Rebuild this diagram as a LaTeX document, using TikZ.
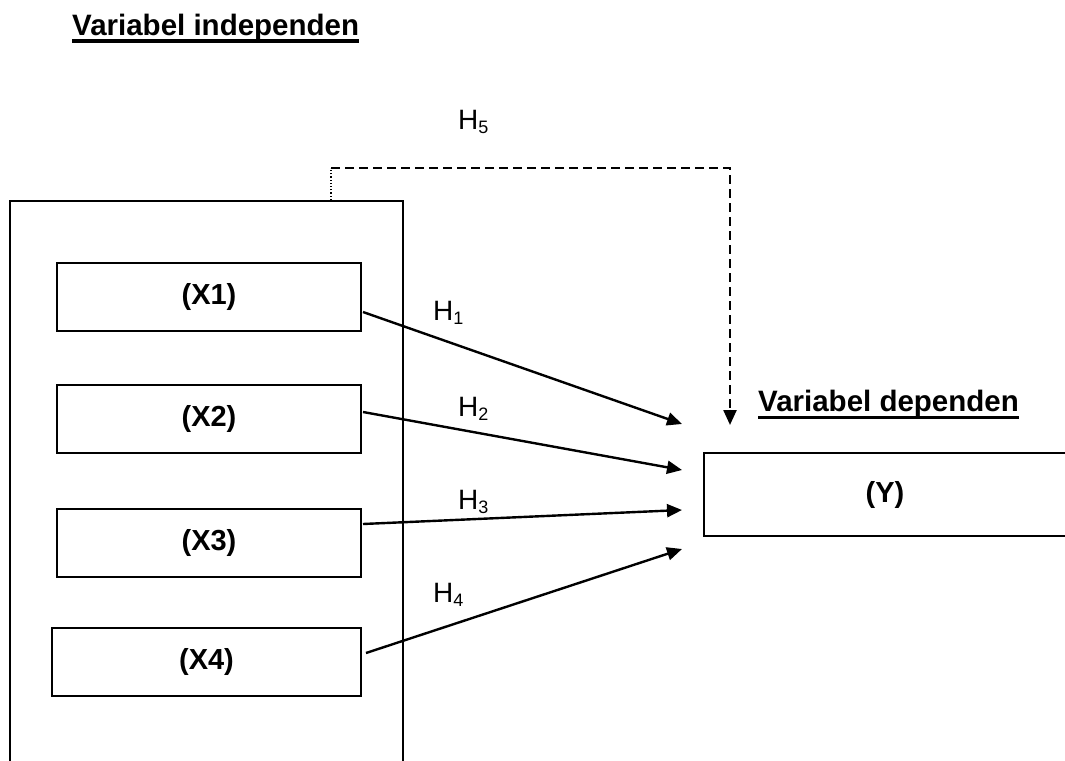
\documentclass[tikz,border=0pt]{standalone}
\usepackage{fontspec}
\setmainfont{Liberation Sans}
\usetikzlibrary{arrows.meta,calc}
\newcommand{\Hsub}[1]{H\raisebox{-4pt}{\fontsize{18}{18}\selectfont #1}}
\begin{document}
\begin{tikzpicture}[x=1pt,y=-1pt,
  box/.style={draw,line width=2pt,inner sep=0pt,font=\fontsize{29}{34}\selectfont\bfseries},
  hdr/.style={inner sep=0pt,anchor=base west,font=\fontsize{29.5}{34}\selectfont\bfseries},
  hlab/.style={inner sep=0pt,anchor=base west,font=\fontsize{28}{32}\selectfont},
  arr/.style={line width=2.4pt,-{Triangle[length=15pt,width=13pt]}},
  darr/.style={line width=2.4pt,dash pattern=on 9pt off 5pt},
]
\useasboundingbox (0,0) rectangle (1065,760);
\clip (0,0) rectangle (1065,760);
\fill[white] (0,0) rectangle (1065,760);

% headers
\node[hdr] (hin) at (72,36) {Variabel independen};
\draw[line width=3.5pt] ($(hin.base west)+(0,5)$) -- ($(hin.base east)+(0,5)$);
\node[hdr] (hdep) at (758,411) {Variabel dependen};
\draw[line width=3.5pt] ($(hdep.base west)+(0,6.5)$) -- ($(hdep.base east)+(0,6.5)$);

% outer box (extends beyond bottom)
\node[draw,line width=2pt,minimum width=393pt,minimum height=600pt,inner sep=0pt] (outer) at (206.5,501) {};

% X boxes
\node[box,minimum width=304pt,minimum height=68pt] (x1) at (209,297) {(X1)};
\node[box,minimum width=304pt,minimum height=68pt] (x2) at (209,419) {(X2)};
\node[box,minimum width=304pt,minimum height=68pt] (x3) at (209,543) {(X3)};
\node[box,minimum width=309pt,minimum height=68pt] (x4) at (206.5,662) {(X4)};

% Y box (extends beyond right edge)
\node[box,minimum width=362pt,minimum height=83pt] (y) at (885,494.5) {(Y)};

% arrow targets
\coordinate (t1) at (682,424);
\coordinate (t2) at (682,470);
\coordinate (t3) at (682,510);
\coordinate (t4) at (682,549);
\coordinate (t5) at (730,425);

\draw[arr] ($(x1.east)+(1,15)$) -- (t1);
\draw[arr] ($(x2.east)+(1,-7)$) -- (t2);
\draw[arr] ($(x3.east)+(1,-19)$) -- (t3);
\draw[arr] ($(x4.east)+(4,-9)$) -- (t4);

% H5 path
\coordinate (d0) at (331,168);
\coordinate (d1) at (730,168);
\draw[line width=1.2pt,dotted] (outer.north -| d0) -- (d0);
\draw[darr] (d0) -- (d1) -- ($(t5)+(0,-15)$);
\draw[line width=2.4pt,-{Triangle[length=15pt,width=13pt]}] ($(t5)+(0,-15.5)$) -- (t5);

% labels
\node[hlab] (h1) at (433,320) {\Hsub{1}};
\node[hlab] (h2) at (458,416) {\Hsub{2}};
\node[hlab] (h3) at (458,509) {\Hsub{3}};
\node[hlab] (h4) at (433,602) {\Hsub{4}};
\node[hlab] (h5) at (458,129) {\Hsub{5}};
\end{tikzpicture}
\end{document}
